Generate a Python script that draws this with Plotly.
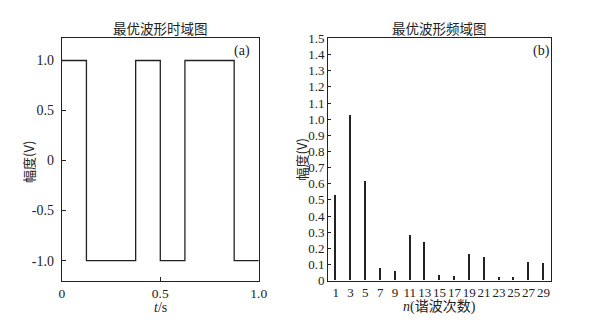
import plotly.graph_objects as go

# Time-domain waveform (step function)
t_edges = [0, 0.125, 0.375, 0.5, 0.625, 0.875, 1.0]
levels = [1, -1, 1, -1, 1, -1]

# Frequency-domain harmonic amplitudes
harmonics = [1, 3, 5, 7, 9, 11, 13, 15, 17, 19, 21, 23, 25, 27, 29]
amplitudes = [0.525, 1.022, 0.614, 0.075, 0.059, 0.278, 0.235, 0.034, 0.028,
              0.160, 0.146, 0.022, 0.018, 0.114, 0.107]

left_yticks = [-1.0, -0.5, 0, 0.5, 1.0]
left_yticklabels = ["-1.0", "-0.5", "0", "0.5", "1.0"]
left_xticks = [0, 0.5, 1.0]
left_xticklabels = ["0", "0.5", "1.0"]
right_yticks = [round(0.1 * i, 1) for i in range(16)]
right_yticklabels = ["0"] + [f"{v:.1f}" for v in right_yticks[1:]]

# build step path
xs, ys = [], []
for i, lv in enumerate(levels):
    xs += [t_edges[i], t_edges[i + 1]]
    ys += [lv, lv]

serif = "Liberation Serif"
cjk = "Noto Sans CJK SC"
ink = "#222222"

fig = go.Figure()
fig.add_trace(go.Scatter(x=xs, y=ys, mode="lines", line=dict(color=ink, width=1.3, shape="linear"),
                         xaxis="x", yaxis="y", showlegend=False, hoverinfo="skip"))
fig.add_trace(go.Bar(x=harmonics, y=amplitudes, width=0.28, marker=dict(color=ink, line=dict(width=0)),
                     xaxis="x2", yaxis="y2", showlegend=False, hoverinfo="skip"))

axis_common = dict(showline=True, linecolor=ink, linewidth=1.2, mirror=True, showgrid=False,
                   zeroline=False, ticks="inside", tickcolor=ink, ticklen=4, tickangle=0,
                   tickfont=dict(family=serif, size=14, color=ink))

fig.update_layout(
    width=596, height=322,
    margin=dict(l=0, r=0, t=0, b=0),
    paper_bgcolor="white", plot_bgcolor="white",
    font=dict(family=serif),
    xaxis=dict(domain=[0.1007, 0.438], range=[0, 1.0], tickvals=left_xticks, ticktext=left_xticklabels,
               anchor="y", ticklabelstandoff=0,
               **{**axis_common, "tickfont": dict(family=serif, size=13.5, color=ink)}),
    yaxis=dict(domain=[0.1087, 0.8975], range=[-1.2, 1.22], tickvals=left_yticks, ticktext=left_yticklabels,
               anchor="x", ticklabelstandoff=4, **axis_common),
    xaxis2=dict(domain=[0.557, 0.938], range=[0, 30], tickvals=harmonics,
                ticktext=[str(h) for h in harmonics], anchor="y2", ticklabelstandoff=0,
                **{**axis_common, "ticks": "", "tickfont": dict(family=serif, size=13, color=ink)}),
    yaxis2=dict(domain=[0.1087, 0.8975], range=[0, 1.5], tickvals=right_yticks, ticktext=right_yticklabels,
                anchor="x2", ticklabelstandoff=0,
                **{**axis_common, "ticklen": 3, "tickfont": dict(family=serif, size=13, color=ink)}),
    bargap=0,
)

ann = [
    dict(text="最优波形时域图", x=0.2694, y=22, font=dict(family=cjk, size=13.5, color=ink)),
    dict(text="最优波形频域图", x=0.7475, y=22, font=dict(family=cjk, size=13.5, color=ink)),
]
annotations = []
for a in ann:
    annotations.append(dict(text=a["text"], x=a["x"], y=1 - a["y"] / 322, xref="paper", yref="paper",
                            showarrow=False, font=a["font"], xanchor="center", yanchor="middle"))
annotations += [
    dict(text="(a)", x=0.41, y=1 - 46 / 322, xref="paper", yref="paper", showarrow=False,
         font=dict(family=serif, size=14, color=ink), xanchor="center", yanchor="middle"),
    dict(text="(b)", x=0.922, y=1 - 46 / 322, xref="paper", yref="paper", showarrow=False,
         font=dict(family=serif, size=14, color=ink), xanchor="center", yanchor="middle"),
    dict(text="<i>t</i>/s", x=0.2694, y=1 - 315 / 322, xref="paper", yref="paper", showarrow=False,
         font=dict(family=serif, size=14, color=ink), xanchor="center", yanchor="middle"),
    dict(text="<i>n</i>(谐波次数)", x=0.7475, y=1 - 315 / 322, xref="paper", yref="paper", showarrow=False,
         font=dict(family=serif + ", " + cjk, size=14, color=ink), xanchor="center", yanchor="middle"),
    dict(text="幅度(V)", x=26 / 596, y=1 - 162 / 322, xref="paper", yref="paper", showarrow=False,
         textangle=-90, font=dict(family=cjk, size=13, color=ink), xanchor="center", yanchor="middle"),
    dict(text="幅度(V)", x=305 / 596, y=1 - 160 / 322, xref="paper", yref="paper", showarrow=False,
         textangle=-90, font=dict(family=cjk, size=13, color=ink), xanchor="center", yanchor="middle"),
]
fig.update_layout(annotations=annotations)

fig.write_html("out.html", config={"displayModeBar": False},
               post_script="document.body.style.margin='0';document.body.style.padding='0';")
